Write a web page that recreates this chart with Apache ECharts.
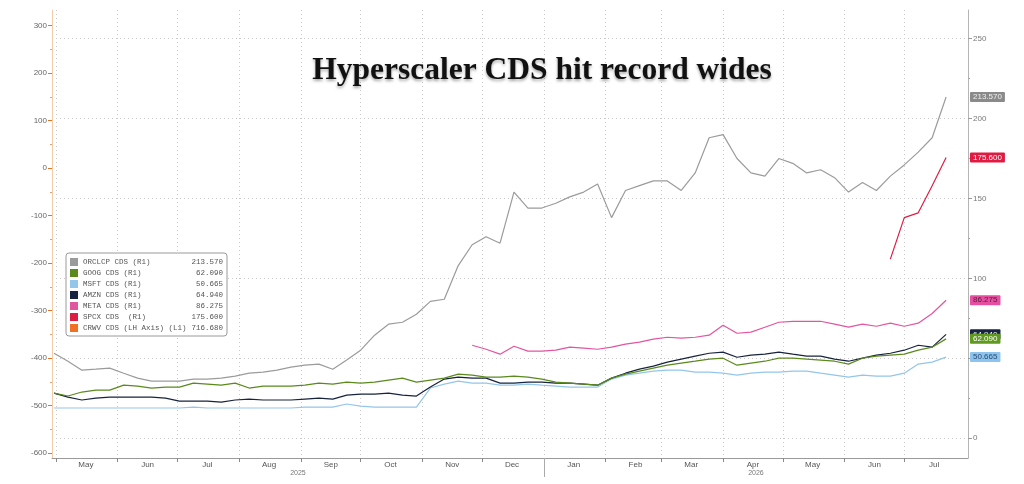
<!DOCTYPE html>
<html lang="en">
<head>
<meta charset="UTF-8">
<title>Hyperscaler CDS hit record wides</title>
<style>
    html, body { margin: 0; padding: 0; background: #fff; }
    #chart { width: 1024px; height: 484px; }
</style>
</head>
<body>
<div id="chart"></div>
<script src="https://cdn.jsdelivr.net/npm/echarts@6.0.0/dist/echarts.min.js"></script>
<script>
    // weekly readings
    var dates = [
        '2025-04-30', '2025-05-07', '2025-05-14', '2025-05-21', '2025-05-28', '2025-06-04', '2025-06-11', '2025-06-18', '2025-06-25', '2025-07-02',
        '2025-07-09', '2025-07-16', '2025-07-23', '2025-07-30', '2025-08-06', '2025-08-13', '2025-08-20', '2025-08-27', '2025-09-03', '2025-09-10',
        '2025-09-17', '2025-09-24', '2025-10-01', '2025-10-08', '2025-10-15', '2025-10-22', '2025-10-29', '2025-11-05', '2025-11-12', '2025-11-19',
        '2025-11-26', '2025-12-03', '2025-12-10', '2025-12-17', '2025-12-24', '2025-12-31', '2026-01-07', '2026-01-14', '2026-01-21', '2026-01-28',
        '2026-02-04', '2026-02-11', '2026-02-18', '2026-02-25', '2026-03-04', '2026-03-11', '2026-03-18', '2026-03-25', '2026-04-01', '2026-04-08',
        '2026-04-15', '2026-04-22', '2026-04-29', '2026-05-06', '2026-05-13', '2026-05-20', '2026-05-27', '2026-06-03', '2026-06-10', '2026-06-17',
        '2026-06-24', '2026-07-01', '2026-07-08', '2026-07-15', '2026-07-22'
    ];
    var orcl = [
        53.1, 48.1, 42.5, 43.1, 43.8, 40.6, 37.5, 35.6, 35.6, 35.6,
        36.9, 36.9, 37.5, 38.8, 40.6, 41.3, 42.5, 44.4, 45.6, 46.3,
        43.1, 48.8, 55.0, 64.4, 71.3, 72.5, 77.5, 85.6, 86.9, 108.0,
        121.0, 126.0, 122.0, 154.0, 144.0, 144.0, 147.0, 151.0, 154.0, 159.0,
        138.0, 155.0, 158.0, 161.0, 161.0, 155.0, 166.0, 188.0, 190.0, 175.0,
        166.0, 164.0, 175.0, 172.0, 166.0, 168.0, 163.0, 154.0, 160.0, 155.0,
        164.0, 171.0, 179.0, 188.0, 213.57
    ];
    var goog = [
        28.1, 26.3, 28.8, 30.0, 30.0, 33.1, 32.5, 31.3, 31.9, 31.9,
        34.4, 33.8, 33.1, 34.4, 31.3, 32.5, 32.5, 32.5, 33.1, 34.4,
        33.8, 35.0, 34.4, 35.0, 36.3, 37.5, 35.0, 36.3, 37.5, 40.0,
        39.4, 38.1, 38.1, 38.8, 38.1, 36.9, 35.0, 34.4, 33.8, 33.1,
        37.5, 40.0, 41.9, 43.8, 45.6, 46.9, 48.1, 49.4, 50.0, 45.6,
        46.9, 48.1, 50.0, 50.0, 49.4, 48.8, 48.1, 46.3, 50.0, 51.3,
        51.9, 52.5, 55.0, 56.9, 62.09
    ];
    var msft = [
        18.8, 18.8, 18.8, 18.8, 18.8, 18.8, 18.8, 18.8, 18.8, 18.8,
        19.4, 18.8, 18.8, 18.8, 18.8, 18.8, 18.8, 18.8, 19.4, 19.4,
        19.4, 21.3, 20.0, 19.4, 19.4, 19.4, 19.4, 31.3, 33.8, 35.6,
        34.4, 34.4, 33.1, 33.1, 33.8, 33.1, 32.5, 31.9, 31.9, 31.9,
        36.9, 39.4, 40.6, 41.9, 42.5, 42.5, 41.3, 41.3, 40.6, 39.4,
        40.6, 41.3, 41.3, 41.9, 41.9, 40.6, 39.4, 38.1, 39.4, 38.8,
        38.8, 40.6, 46.3, 47.5, 50.665
    ];
    var amzn = [
        28.1, 25.6, 23.8, 25.0, 25.6, 25.6, 25.6, 25.6, 25.0, 23.1,
        23.1, 23.1, 22.5, 23.8, 24.4, 23.8, 23.8, 23.8, 24.4, 25.0,
        24.4, 26.9, 27.5, 27.5, 28.1, 26.9, 26.3, 31.9, 36.9, 38.1,
        37.5, 37.5, 34.4, 34.4, 35.0, 35.0, 34.4, 34.4, 33.8, 33.1,
        37.5, 40.6, 43.1, 45.0, 47.5, 49.4, 51.3, 53.1, 53.8, 50.6,
        51.9, 52.5, 53.8, 52.5, 51.3, 51.3, 49.4, 48.1, 50.0, 51.9,
        53.1, 55.0, 58.1, 56.9, 64.94
    ];
    var meta = [
        null, null, null, null, null, null, null, null, null, null,
        null, null, null, null, null, null, null, null, null, null,
        null, null, null, null, null, null, null, null, null, null,
        58.1, 55.6, 52.5, 57.5, 54.4, 54.4, 55.0, 56.9, 56.3, 55.6,
        56.9, 58.8, 60.0, 61.9, 63.1, 62.5, 63.1, 64.4, 70.6, 65.6,
        66.3, 69.4, 72.5, 73.1, 73.1, 73.1, 71.3, 69.4, 71.3, 70.0,
        71.9, 70.0, 71.9, 78.0, 86.275
    ];
    var spcx = [
        null, null, null, null, null, null, null, null, null, null,
        null, null, null, null, null, null, null, null, null, null,
        null, null, null, null, null, null, null, null, null, null,
        null, null, null, null, null, null, null, null, null, null,
        null, null, null, null, null, null, null, null, null, null,
        null, null, null, null, null, null, null, null, null, null,
        112.0, 138.0, 141.0, 158.0, 175.6
    ];
    var crwvLast = 716.68;   // off the top of the LH axis

    var monthStarts = [
        '2025-05-01', '2025-06-01', '2025-07-01', '2025-08-01', '2025-09-01', '2025-10-01', '2025-11-01', '2025-12-01',
        '2026-01-01', '2026-02-01', '2026-03-01', '2026-04-01', '2026-05-01', '2026-06-01', '2026-07-01'
    ];
    var monthLabels = ['May', 'Jun', 'Jul', 'Aug', 'Sep', 'Oct', 'Nov', 'Dec', 'Jan', 'Feb', 'Mar', 'Apr', 'May', 'Jun', 'Jul'];
    var yearStarts = ['2026-01-01'];
    var yearLabels = ['2025', '2026'];
    var leftTicks = [-600, -500, -400, -300, -200, -100, 0, 100, 200, 300];
    var leftMinor = [-550, -450, -350, -250, -150, -50, 50, 150, 250];
    var rightTicks = [0, 50, 100, 150, 200, 250];
    var rightLabels = [0, 100, 150, 200, 250];
    var rightMinor = [25, 75, 125, 175, 225];

    var xFrom = '2025-04-29', xTo = '2026-08-02';

    function ts(s) {
        var p = s.split('-');
        return new Date(+p[0], +p[1] - 1, +p[2]).getTime();
    }
    var DAY = 86400000;
    var monthTs = monthStarts.map(ts);
    var midTs = monthTs.map(function (t) { return t + 15 * DAY; });
    var yearCut = ts(yearStarts[0]);
    var yearMid = [(ts(xFrom) + yearCut) / 2, (yearCut + ts(xTo)) / 2];

    function pairs(vals) {
        var res = [];
        for (var i = 0; i < vals.length; i++) {
            if (vals[i] !== null) res.push([ts(dates[i]), vals[i]]);
        }
        return res;
    }
    function lastOf(vals) {
        for (var i = vals.length - 1; i >= 0; i--) if (vals[i] !== null) return vals[i];
    }

    var AXFONT = 'Liberation Sans';
    var MONO = 'Liberation Mono';

    // name, values, colour, tag colours, axis
    var defs = [
        { name: 'ORCLCP CDS (R1)', vals: orcl, color: '#9b9b9b', tag: '#8a8a8a', txt: '#f0f0f0', axis: 1 },
        { name: 'MSFT CDS (R1)', vals: msft, color: '#93c6ea', tag: '#8cc4ee', txt: '#2a4a70', axis: 1 },
        { name: 'AMZN CDS (R1)', vals: amzn, color: '#17233f', tag: '#17233f', txt: '#ffffff', axis: 1 },
        { name: 'GOOG CDS (R1)', vals: goog, color: '#5a8a1c', tag: '#5f991e', txt: '#ffffff', axis: 1 },
        { name: 'META CDS (R1)', vals: meta, color: '#e2559f', tag: '#e44fa0', txt: '#5a1a3a', axis: 1 },
        { name: 'SPCX CDS  (R1)', vals: spcx, color: '#dd1e44', tag: '#e01a40', txt: '#ffffff', axis: 1 }
    ];
    var legendOrder = ['ORCLCP CDS (R1)', 'GOOG CDS (R1)', 'MSFT CDS (R1)', 'AMZN CDS (R1)', 'META CDS (R1)', 'SPCX CDS  (R1)', 'CRWV CDS (LH Axis) (L1)'];
    var lastVal = {};

    var series = defs.map(function (d) {
        var last = lastOf(d.vals);
        lastVal[d.name] = last;
        return {
            name: d.name,
            type: 'line',
            yAxisIndex: d.axis,
            showSymbol: false,
            symbol: 'none',
            animation: false,
            lineStyle: { width: 1.2, color: d.color },
            itemStyle: { color: d.color },
            data: pairs(d.vals),
            markLine: {
                silent: true,
                symbol: 'none',
                animation: false,
                lineStyle: { width: 0, color: 'rgba(0,0,0,0)' },
                label: {
                    show: true,
                    position: 'end',
                    distance: 2,
                    formatter: last.toFixed(3),
                    backgroundColor: d.tag,
                    color: d.txt,
                    fontFamily: AXFONT,
                    fontSize: 8,
                    padding: [1, 3, 1, 3],
                    borderRadius: 1
                },
                data: [{ yAxis: last }]
            }
        };
    });
    lastVal['CRWV CDS (LH Axis) (L1)'] = crwvLast;
    series.push({
        name: 'CRWV CDS (LH Axis) (L1)',
        type: 'line',
        yAxisIndex: 0,
        showSymbol: false,
        symbol: 'none',
        animation: false,
        lineStyle: { width: 1.2, color: '#f07125' },
        itemStyle: { color: '#f07125' },
        data: [[ts(dates[dates.length - 1]), crwvLast]]
    });

    var gridLine = { show: true, lineStyle: { color: '#c9c9c9', type: [1, 3], width: 1 } };

    var option = {
        backgroundColor: '#ffffff',
        animation: false,
        title: {
            text: 'Hyperscaler CDS hit record wides',
            left: 537,
            top: 50,
            textAlign: 'center',
            textStyle: {
                fontFamily: 'Liberation Serif',
                fontWeight: 'bold',
                fontSize: 31.5,
                color: '#111',
                textShadowColor: 'rgba(0,0,0,0.35)',
                textShadowBlur: 3,
                textShadowOffsetY: 2
            }
        },
        grid: { left: 52, right: 56, top: 10, bottom: 26 },
        legend: {
            orient: 'vertical',
            left: 66,
            top: 253,
            data: legendOrder,
            icon: 'rect',
            itemWidth: 8,
            itemHeight: 8,
            itemGap: 1,
            padding: [4, 4, 3, 4],
            borderColor: '#9a9a9a',
            borderWidth: 1,
            borderRadius: 3,
            backgroundColor: '#ffffff',
            selectedMode: false,
            textStyle: {
                fontFamily: MONO,
                fontSize: 7.5,
                color: '#555',
                lineHeight: 10,
                rich: {
                    n: { width: 108, fontFamily: MONO, fontSize: 7.5, color: '#555' },
                    v: { width: 32, align: 'right', fontFamily: MONO, fontSize: 7.5, color: '#555' }
                }
            },
            formatter: function (name) {
                return '{n|' + name + '}{v|' + lastVal[name].toFixed(3) + '}';
            }
        },
        xAxis: [
            {
                type: 'value',
                min: ts(xFrom),
                max: ts(xTo),
                axisLine: { onZero: false, lineStyle: { color: '#9a9a9a' } },
                axisTick: { show: true, customValues: monthTs, length: 4, lineStyle: { color: '#888' } },
                axisLabel: {
                    customValues: midTs,
                    margin: 3,
                    fontFamily: AXFONT,
                    fontSize: 8,
                    color: '#555',
                    formatter: function (v) {
                        var k = midTs.indexOf(v);
                        return k >= 0 ? monthLabels[k] : '';
                    }
                },
                splitLine: gridLine
            },
            {
                type: 'value',
                min: ts(xFrom),
                max: ts(xTo),
                position: 'bottom',
                axisLine: { show: false, onZero: false },
                axisTick: { show: true, customValues: [yearCut], length: 19, lineStyle: { color: '#aaa' } },
                axisLabel: {
                    customValues: yearMid,
                    margin: 12,
                    fontFamily: AXFONT,
                    fontSize: 7,
                    color: '#777',
                    formatter: function (v) {
                        var k = yearMid.indexOf(v);
                        return k >= 0 ? yearLabels[k] : '';
                    }
                },
                splitLine: { show: false }
            }
        ],
        yAxis: [
            {
                type: 'value',
                position: 'left',
                min: -610.5,
                max: 333,
                axisLine: { show: true, onZero: false, lineStyle: { color: '#f2cba8' } },
                axisTick: { show: true, customValues: leftTicks, length: 4, lineStyle: { color: '#e8731e' } },
                axisLabel: { customValues: leftTicks, margin: 5, fontFamily: AXFONT, fontSize: 8, color: '#666' },
                splitLine: { show: false }
            },
            {
                type: 'value',
                position: 'right',
                min: -12.5,
                max: 268,
                axisLine: { show: true, onZero: false, lineStyle: { color: '#b5b5b5' } },
                axisTick: { show: true, customValues: rightTicks, length: 4, lineStyle: { color: '#999' } },
                axisLabel: { customValues: rightLabels, margin: 5, fontFamily: AXFONT, fontSize: 8, color: '#777' },
                splitLine: gridLine
            },
            {
                type: 'value',
                position: 'left',
                min: -610.5,
                max: 333,
                axisLine: { show: false, onZero: false },
                axisTick: { show: true, customValues: leftMinor, length: 2, lineStyle: { color: '#e8a070' } },
                axisLabel: { show: false },
                splitLine: { show: false }
            },
            {
                type: 'value',
                position: 'right',
                min: -12.5,
                max: 268,
                axisLine: { show: false, onZero: false },
                axisTick: { show: true, customValues: rightMinor, length: 2, lineStyle: { color: '#aaa' } },
                axisLabel: { show: false },
                splitLine: { show: false }
            }
        ],
        series: series
    };

    var myChart = echarts.init(document.getElementById('chart'));
    myChart.setOption(option);
</script>
</body>
</html>
